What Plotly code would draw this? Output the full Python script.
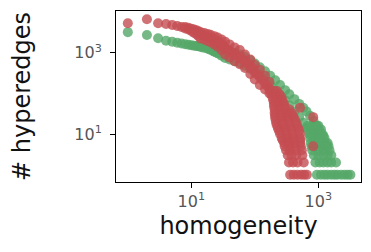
import plotly.graph_objects as go

# ---------------- data ----------------
# green series
green_head_x = [1, 2, 3, 4, 5, 6, 7, 8, 9, 10, 11, 12, 13, 14, 15, 17, 19, 20, 22, 23, 25, 27, 30, 34]
green_head_y = [3200, 2720, 2260, 1970, 1850, 1750, 1680, 1620, 1570, 1520, 1490, 1460, 1430, 1400, 1350, 1280, 1220, 1180, 1110, 1060, 1000, 940, 840, 740]

green_outer_x = [40, 48, 58, 70, 85, 100, 120, 145, 175, 210, 250, 300, 350, 420, 500, 580, 650, 740, 840, 950, 1050, 1200, 1400]
green_outer_y = [1100, 1000, 900, 780, 650, 540, 440, 350, 270, 210, 160, 120, 95, 72, 55, 44, 36, 28, 21, 16, 12, 9, 6]

green_inner_x = [40, 48, 58, 70, 85, 100, 120, 145, 175, 210, 250, 300, 350, 420, 500, 580, 650, 740, 840]
green_inner_y = [680, 620, 560, 480, 400, 330, 270, 210, 160, 120, 90, 68, 50, 36, 26, 19, 14, 10, 7]

green_tail_x = [950, 1100, 1250, 1400, 1600, 1800, 2000, 2300, 2600, 2900, 3200,
                900, 1050, 1200, 1400, 1600, 1900,
                850, 1000, 1200, 1400, 1600,
                800, 1000, 1200, 1500,
                780, 950, 1150, 1350, 1450,
                760, 900, 1100, 1300,
                740, 880, 1050, 1250,
                720, 850, 1000, 1150,
                700, 830, 950, 1100,
                680, 800, 900, 1000]
green_tail_y = [1, 1, 1, 1, 1, 1, 1, 1, 1, 1, 1,
                2, 2, 2, 2, 2, 2,
                3, 3, 3, 3, 3,
                4, 4, 4, 4,
                5, 5, 5, 5, 5,
                6, 6, 6, 6,
                8, 8, 8, 8,
                10, 10, 10, 10,
                13, 13, 13, 13,
                16, 16, 16, 16]

# red series
red_head_x = [1, 2, 3, 4, 5, 6, 7, 8, 8]
red_head_y = [5270, 6620, 5270, 5070, 4800, 4530, 4280, 4300, 3960]

red_upper_x = [9, 10, 11, 12, 13, 14, 16, 18, 20, 23, 26, 30, 34, 40, 48, 58, 70, 85, 100, 120, 145, 170]
red_upper_y = [4100, 3900, 3700, 3550, 3380, 3200, 3050, 2900, 2750, 2550, 2350, 2100, 1870, 1600, 1350, 1160, 900, 680, 500, 380, 270, 190]

red_lower_x = [9, 10, 11, 12, 13, 14, 16, 18, 20, 23, 26, 30, 34, 40, 48, 58, 70, 85, 100, 120, 145, 170]
red_lower_y = [3700, 3400, 3100, 2850, 2550, 2250, 2100, 1950, 1800, 1600, 1400, 1150, 900, 760, 620, 520, 420, 300, 220, 160, 125, 100]

red_mid_x = [15, 17, 19, 21, 23, 25, 26, 28, 30, 32, 34, 37, 40, 44, 48, 53, 58, 64, 70, 77, 85, 92, 100, 110, 120, 132, 145, 158, 170]
red_mid_y = [2700, 2500, 2350, 2200, 2000, 1900, 1800, 1700, 1600, 1450, 1300, 1200, 1100, 1000, 900, 840, 780, 700, 620, 540, 460, 400, 330, 290, 250, 210, 170, 150, 130]

red_tail_x = [175, 200, 222,
              182, 210, 245,
              190, 225, 262,
              195, 235, 270,
              200, 240, 285,
              200, 245, 295, 515,
              205, 250, 300, 350,
              205, 255, 310, 380,
              208, 260, 320, 400,
              210, 265, 330, 420, 830,
              215, 270, 340, 440,
              220, 280, 350, 460,
              230, 290, 370, 480,
              240, 300, 380, 500,
              250, 310, 390, 515,
              265, 320, 400, 515,
              275, 330, 410, 520,
              290, 340, 420, 520, 830,
              295, 350, 430, 530,
              310, 360, 440, 550,
              330, 380, 450, 560,
              345, 400, 470, 590,
              360, 410, 470, 540, 600, 660]
red_tail_y = [115, 115, 115,
              95, 95, 95,
              80, 80, 80,
              68, 68, 68,
              57, 57, 57,
              48, 48, 48, 44,
              40, 40, 40, 40,
              33, 33, 33, 33,
              28, 28, 28, 28,
              24, 24, 24, 24, 26,
              20, 20, 20, 20,
              17, 17, 17, 17,
              14, 14, 14, 14,
              12, 12, 12, 12,
              10, 10, 10, 10,
              8, 8, 8, 8,
              7, 7, 7, 7,
              6, 6, 6, 6, 5,
              5, 5, 5, 5,
              4, 4, 4, 4,
              3, 3, 3, 3,
              2, 2, 2, 2,
              1, 1, 1, 1, 1, 1]

x_tick_vals = [10, 1000]
x_tick_text = ["10<sup>1</sup>", "10<sup>3</sup>"]
y_tick_vals = [10, 1000]
y_tick_text = ["10<sup>1</sup>", "10<sup>3</sup>"]

GREEN = "#55a868"
RED = "#c44e52"

green_x = green_head_x + green_outer_x + green_inner_x + green_tail_x
green_y = green_head_y + green_outer_y + green_inner_y + green_tail_y
red_x = red_head_x + red_upper_x + red_lower_x + red_mid_x + red_tail_x
red_y = red_head_y + red_upper_y + red_lower_y + red_mid_y + red_tail_y

fig = go.Figure()
fig.add_trace(go.Scatter(x=green_x, y=green_y, mode="markers",
                         marker=dict(size=10, color=GREEN, opacity=0.8, line=dict(width=0)),
                         showlegend=False))
fig.add_trace(go.Scatter(x=red_x, y=red_y, mode="markers",
                         marker=dict(size=10, color=RED, opacity=0.8, line=dict(width=0)),
                         showlegend=False))

axis_common = dict(type="log", showline=True, linecolor="black", linewidth=1, mirror=True,
                   ticks="outside", ticklen=5, tickwidth=1, tickcolor="black",
                   showgrid=False, zeroline=False, automargin=False,
                   tickfont=dict(family="DejaVu Sans", size=16, color="#555555"))

# the page body has an 8px default margin, so the figure is sized/offset to compensate
fig.update_layout(
    width=363, height=244,
    margin=dict(l=108, r=10, t=3, b=70, autoexpand=False),
    paper_bgcolor="white", plot_bgcolor="white",
    font=dict(family="DejaVu Sans"),
    xaxis=dict(range=[-0.186, 3.672], tickvals=x_tick_vals, ticktext=x_tick_text,
               title=dict(text="homogeneity", font=dict(size=24, color="#111111"), standoff=6),
               **axis_common),
    yaxis=dict(range=[-0.18, 4.025], tickvals=y_tick_vals, ticktext=y_tick_text,
               ticklabelstandoff=5,
               title=dict(text="# hyperedges", font=dict(size=24, color="#111111"), standoff=39),
               **axis_common),
)

fig.write_html("out.html")
